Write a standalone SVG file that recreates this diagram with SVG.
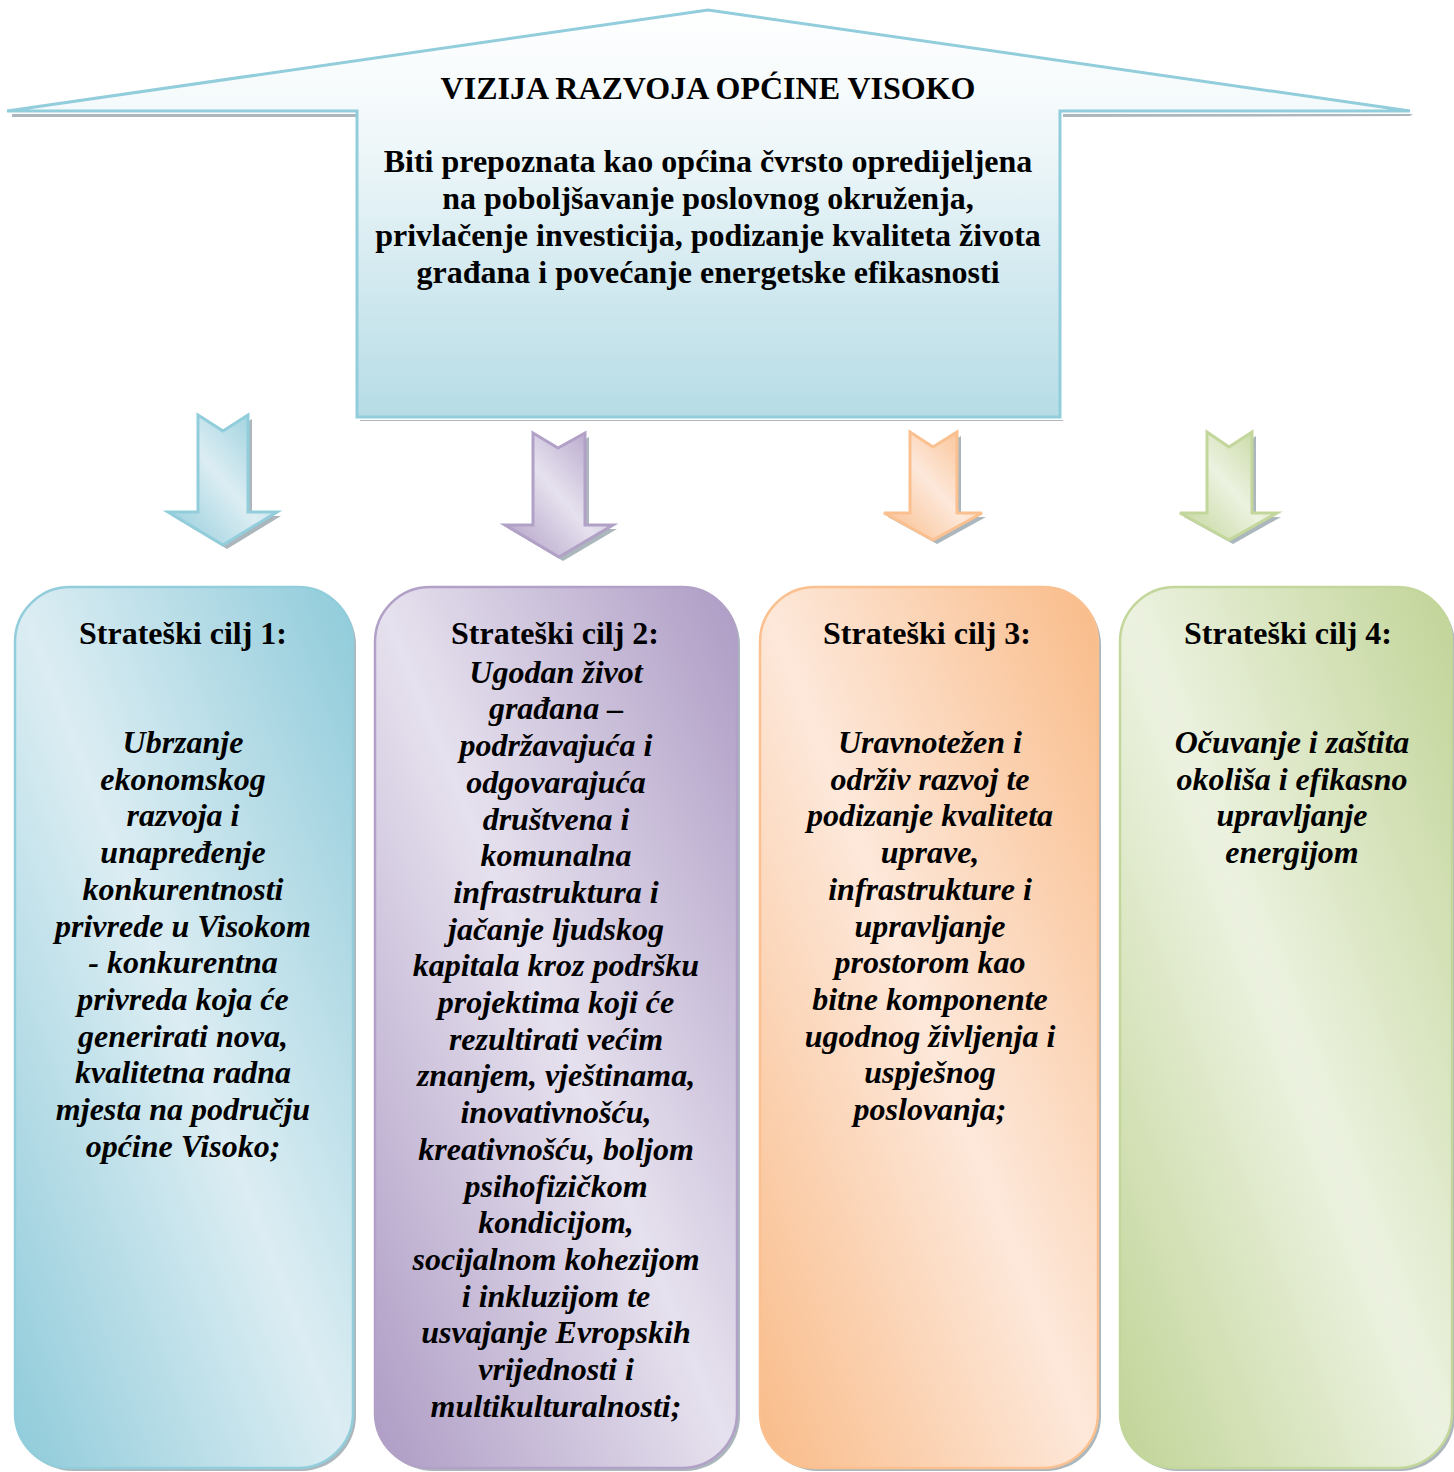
<svg xmlns="http://www.w3.org/2000/svg" width="1454" height="1472" viewBox="0 0 1454 1472" font-family="'Liberation Serif', 'Times New Roman', Times, serif">
<defs>
<linearGradient id="gHouse" x1="0" y1="0" x2="0" y2="1">
<stop offset="0" stop-color="#ffffff"/>
<stop offset="0.3" stop-color="#f1f8fa"/>
<stop offset="1" stop-color="#b6dce6"/>
</linearGradient>
<linearGradient id="gBlue" x1="1" y1="0" x2="0" y2="1">
<stop offset="0" stop-color="#8fcbda"/>
<stop offset="0.5" stop-color="#dcedf3"/>
<stop offset="1" stop-color="#8fcbda"/>
</linearGradient>
<linearGradient id="gPurple" x1="1" y1="0" x2="0" y2="1">
<stop offset="0" stop-color="#ad9bc4"/>
<stop offset="0.5" stop-color="#e6e1ee"/>
<stop offset="1" stop-color="#ad9bc4"/>
</linearGradient>
<linearGradient id="gOrange" x1="1" y1="0" x2="0" y2="1">
<stop offset="0" stop-color="#f9bb88"/>
<stop offset="0.5" stop-color="#fde8da"/>
<stop offset="1" stop-color="#f9bb88"/>
</linearGradient>
<linearGradient id="gGreen" x1="1" y1="0" x2="0" y2="1">
<stop offset="0" stop-color="#c1d497"/>
<stop offset="0.5" stop-color="#ecf2e0"/>
<stop offset="1" stop-color="#c1d497"/>
</linearGradient>
<style>
text{fill:#000;text-anchor:middle;font-weight:bold;font-size:32px}
.ti{font-style:italic}
.sh{fill:#8f9fa6;opacity:0.75}
</style>
</defs>

<g id="vision">
<path class="sh" d="M12,114 L360,114 L360,420 L1063,420 L1063,114 L1413,114 L1410,116 L1063,117 L1063,421 L360,421 L360,117 L12,117 Z"/>
<path d="M7,111 L708,10 L1410,111 L1060,111 L1060,417 L357,417 L357,111 Z" fill="url(#gHouse)" stroke="#92cddc" stroke-width="3" stroke-linejoin="miter"/>
<text x="708" y="99">VIZIJA RAZVOJA OPĆINE VISOKO</text>
<text x="708" y="172">Biti prepoznata kao općina čvrsto opredijeljena</text>
<text x="708" y="209">na poboljšavanje poslovnog okruženja,</text>
<text x="708" y="246">privlačenje investicija, podizanje kvaliteta života</text>
<text x="708" y="283">građana i povećanje energetske efikasnosti</text>
</g>

<g id="connectors">
<path class="sh" d="M202,419 L227,435 L252,419 L252,516 L281,516 L227,549 L172,516 L202,516 Z"/>
<path d="M198,415 L223,431 L248,415 L248,512 L277,512 L223,545 L168,512 L198,512 Z" fill="url(#gBlue)" stroke="#92cddc" stroke-width="3"/>
<path class="sh" d="M537,437 L562,452 L589,437 L589,529 L617,529 L563,561 L509,529 L537,529 Z"/>
<path d="M533,433 L558,448 L585,433 L585,525 L613,525 L559,557 L505,525 L533,525 Z" fill="url(#gPurple)" stroke="#b2a1c7" stroke-width="3"/>
<path class="sh" d="M914,436 L937,451 L961,436 L961,517 L986,517 L937,544 L888,517 L914,517 Z"/>
<path d="M910,432 L933,447 L957,432 L957,513 L982,513 L933,540 L884,513 L910,513 Z" fill="url(#gOrange)" stroke="#fac08f" stroke-width="3"/>
<path class="sh" d="M1211,436 L1233,451 L1256,436 L1256,517 L1281,517 L1233,544 L1184,517 L1211,517 Z"/>
<path d="M1207,432 L1229,447 L1252,432 L1252,513 L1277,513 L1229,540 L1180,513 L1207,513 Z" fill="url(#gGreen)" stroke="#c3d69b" stroke-width="3"/>
</g>

<g id="goal1">
<rect class="sh" x="18" y="590" width="338" height="881" rx="55"/>
<rect x="15" y="587" width="338" height="881" rx="55" fill="url(#gBlue)" stroke="#92cddc" stroke-width="2.5"/>
<text x="183" y="644">Strateški cilj 1:</text>
<g class="ti">
<text class="ti" x="183" y="753">Ubrzanje</text>
<text class="ti" x="183" y="789.7">ekonomskog</text>
<text class="ti" x="183" y="826.4">razvoja i</text>
<text class="ti" x="183" y="863.1">unapređenje</text>
<text class="ti" x="183" y="899.8">konkurentnosti</text>
<text class="ti" x="183" y="936.5">privrede u Visokom</text>
<text class="ti" x="183" y="973.2">- konkurentna</text>
<text class="ti" x="183" y="1009.9">privreda koja će</text>
<text class="ti" x="183" y="1046.6">generirati nova,</text>
<text class="ti" x="183" y="1083.3">kvalitetna radna</text>
<text class="ti" x="183" y="1120">mjesta na području</text>
<text class="ti" x="183" y="1156.7">općine Visoko;</text>
</g>
</g>

<g id="goal2">
<rect class="sh" x="378" y="590" width="362" height="881" rx="55"/>
<rect x="375" y="587" width="362" height="881" rx="55" fill="url(#gPurple)" stroke="#b2a1c7" stroke-width="2.5"/>
<text x="555" y="644">Strateški cilj 2:</text>
<g class="ti">
<text class="ti" x="556" y="682.7">Ugodan život</text>
<text class="ti" x="556" y="719.4">građana –</text>
<text class="ti" x="556" y="756.1">podržavajuća i</text>
<text class="ti" x="556" y="792.8">odgovarajuća</text>
<text class="ti" x="556" y="829.5">društvena i</text>
<text class="ti" x="556" y="866.2">komunalna</text>
<text class="ti" x="556" y="902.9">infrastruktura i</text>
<text class="ti" x="556" y="939.6">jačanje ljudskog</text>
<text class="ti" x="556" y="976.3">kapitala kroz podršku</text>
<text class="ti" x="556" y="1013">projektima koji će</text>
<text class="ti" x="556" y="1049.7">rezultirati većim</text>
<text class="ti" x="556" y="1086.4">znanjem, vještinama,</text>
<text class="ti" x="556" y="1123.1">inovativnošću,</text>
<text class="ti" x="556" y="1159.8">kreativnošću, boljom</text>
<text class="ti" x="556" y="1196.5">psihofizičkom</text>
<text class="ti" x="556" y="1233.2">kondicijom,</text>
<text class="ti" x="556" y="1269.9">socijalnom kohezijom</text>
<text class="ti" x="556" y="1306.6">i inkluzijom te</text>
<text class="ti" x="556" y="1343.3">usvajanje Evropskih</text>
<text class="ti" x="556" y="1380">vrijednosti i</text>
<text class="ti" x="556" y="1416.7">multikulturalnosti;</text>
</g>
</g>

<g id="goal3">
<rect class="sh" x="763" y="590" width="338" height="881" rx="55"/>
<rect x="760" y="587" width="338" height="881" rx="55" fill="url(#gOrange)" stroke="#fac08f" stroke-width="2.5"/>
<text x="927" y="644">Strateški cilj 3:</text>
<g class="ti">
<text class="ti" x="930" y="753">Uravnotežen i</text>
<text class="ti" x="930" y="789.7">održiv razvoj te</text>
<text class="ti" x="930" y="826.4">podizanje kvaliteta</text>
<text class="ti" x="930" y="863.1">uprave,</text>
<text class="ti" x="930" y="899.8">infrastrukture i</text>
<text class="ti" x="930" y="936.5">upravljanje</text>
<text class="ti" x="930" y="973.2">prostorom kao</text>
<text class="ti" x="930" y="1009.9">bitne komponente</text>
<text class="ti" x="930" y="1046.6">ugodnog življenja i</text>
<text class="ti" x="930" y="1083.3">uspješnog</text>
<text class="ti" x="930" y="1120">poslovanja;</text>
</g>
</g>

<g id="goal4">
<rect class="sh" x="1123" y="590" width="332" height="881" rx="55"/>
<rect x="1120" y="587" width="332" height="881" rx="55" fill="url(#gGreen)" stroke="#c3d69b" stroke-width="2.5"/>
<text x="1288" y="644">Strateški cilj 4:</text>
<g class="ti">
<text class="ti" x="1292" y="753">Očuvanje i zaštita</text>
<text class="ti" x="1292" y="789.7">okoliša i efikasno</text>
<text class="ti" x="1292" y="826.4">upravljanje</text>
<text class="ti" x="1292" y="863.1">energijom</text>
</g>
</g>
</svg>
